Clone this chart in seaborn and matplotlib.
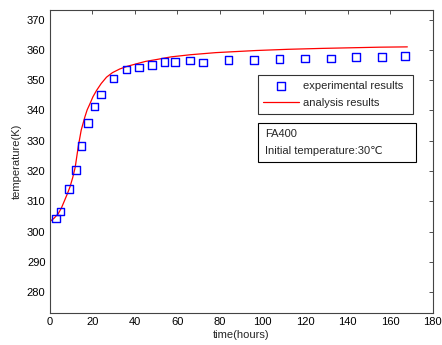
import pandas as pd
import matplotlib
matplotlib.use('Agg')
import matplotlib.pyplot as plt
from matplotlib.patches import Rectangle
import seaborn as sns

# experimental points (hours, K)
exp_time = [3, 5, 9, 12.5, 15, 18, 21, 24, 30, 36, 42, 48, 54, 59, 66, 72, 84, 96, 108, 120, 132, 144, 156, 167]
exp_temp = [304.4, 306.6, 314.0, 320.4, 328.3, 335.8, 341.3, 345.3, 350.6, 353.5, 354.2, 355.1, 356.1, 356.1, 356.5, 355.8,
            356.7, 356.7, 357.0, 357.2, 357.2, 357.6, 357.6, 357.9]

# analysis curve
ana_time = [0, 2, 4, 5.5, 7, 8.3, 9.5, 10.8, 12, 13.4, 14.8, 16.5, 17.6, 18.9, 20.3, 22, 24.2, 26.7, 29.5,
            32.9, 36.5, 40.7, 45, 50, 57, 66, 78, 97, 112, 128, 155, 168]
ana_temp = [303.3, 304.4, 305.9, 307.8, 310.3, 312.5, 314.7, 317.8, 321.3, 328.0, 333.5, 337.8, 340.2, 342.2,
            344.5, 346.6, 348.9, 351.0, 352.5, 353.7, 354.6, 355.4, 356.2, 356.8, 357.7, 358.4, 359.1, 359.8,
            360.2, 360.5, 360.9, 361.0]

x_ticks = [0, 20, 40, 60, 80, 100, 120, 140, 160, 180]
y_ticks = [280, 290, 300, 310, 320, 330, 340, 350, 360, 370]

exp_df = pd.DataFrame({'time': exp_time, 'temp': exp_temp})
ana_df = pd.DataFrame({'time': ana_time, 'temp': ana_temp})

sns.set_style('white')
plt.rcParams['font.family'] = ['Liberation Sans', 'DejaVu Sans']
plt.rcParams['font.size'] = 8

fig = plt.figure(figsize=(4.42, 3.45), dpi=100)
ax = fig.add_axes([0.1124, 0.0928, 0.867, 0.878])

sns.scatterplot(x='time', y='temp', data=exp_df, ax=ax, marker='s', s=30,
                facecolor='none', edgecolor='blue', linewidth=1, label='experimental results', zorder=3)
sns.lineplot(x='time', y='temp', data=ana_df, ax=ax, color='red', linewidth=0.9,
             label='analysis results', zorder=2)

ax.set_xlim(0, 180)
ax.set_ylim(273.15, 373.15)
ax.set_xticks(x_ticks)
ax.set_yticks(y_ticks)
ax.set_xlabel('time(hours)', fontsize=8, labelpad=2)
ax.set_ylabel('temperature(K)', fontsize=8, labelpad=4)
ax.tick_params(direction='in', top=True, right=True, length=3, width=0.6, colors='#333333', labelsize=8, pad=3)
ax.tick_params(labelcolor='black')
for s in ax.spines.values():
    s.set_color('#444444')
    s.set_linewidth(0.8)

# legend box
leg = ax.legend(loc='upper left', bbox_to_anchor=(0.543, 0.661, 0.404, 0.124), mode='expand',
                frameon=True, fancybox=False, edgecolor='black', fontsize=8, borderpad=0.5,
                handlelength=3.2, labelspacing=0.65, handletextpad=0.4, borderaxespad=0)
leg.get_frame().set_linewidth(0.8)

# annotation box
ax.add_patch(Rectangle((0.543, 0.497), 0.412, 0.131, transform=ax.transAxes, facecolor='white',
                       edgecolor='black', linewidth=0.8, zorder=5))
ax.text(0.562, 0.591, 'FA400', transform=ax.transAxes, fontsize=8, va='center', ha='left', zorder=6)
ax.text(0.562, 0.536, 'Initial temperature:30\u2103', transform=ax.transAxes, fontsize=8,
        va='center', ha='left', zorder=6)

fig.savefig('out.png', dpi=100, facecolor='white')
